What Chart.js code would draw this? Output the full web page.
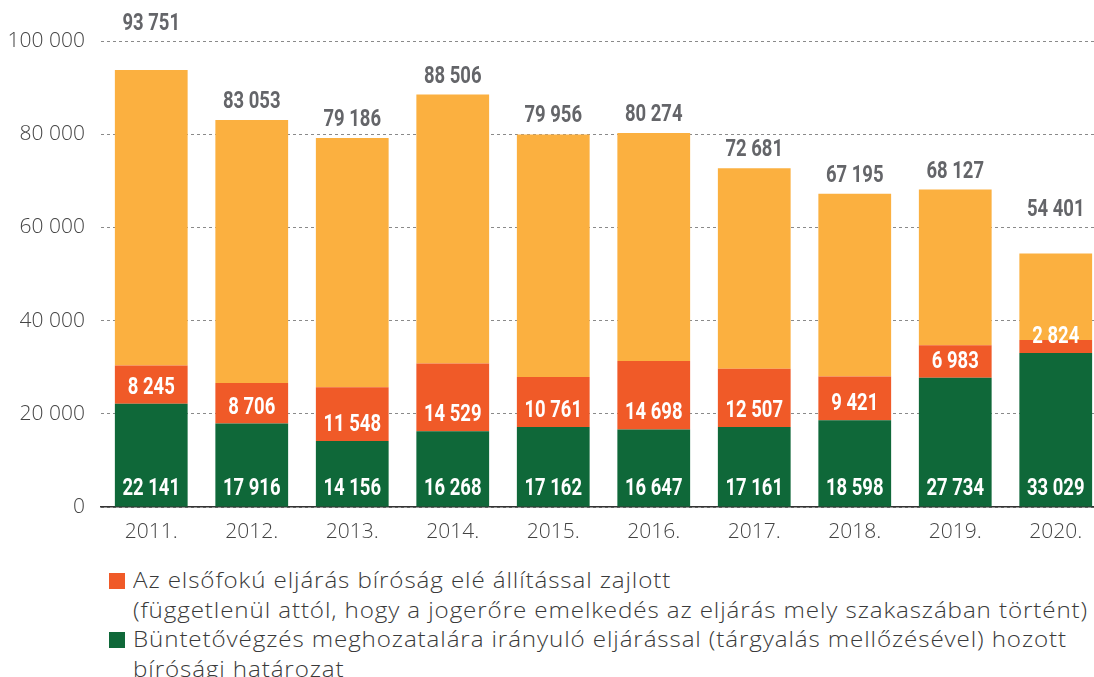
<!DOCTYPE html>
<html>
<head>
<meta charset="utf-8">
<script src="https://cdn.jsdelivr.net/npm/chart.js@4.4.1/dist/chart.umd.min.js"></script>
<style>
  html, body { margin:0; padding:0; background:#fff; width:1094px; height:677px; overflow:hidden; }
  #wrap { position:relative; width:1106px; height:677px; }
  #chartBox { position:absolute; left:0; top:0; width:1106px; height:550px; }
  #legend { position:absolute; left:109px; top:565px; font-family:"Open Sans", sans-serif; font-weight:300;
            font-size:22px; color:#3a3a3a; line-height:29.5px; white-space:nowrap; letter-spacing:0.8px; }
  .item { display:flex; align-items:flex-start; }
  .sw { width:16px; height:16px; flex:none; margin-top:8px; margin-right:8px; }
  .tx { transform:scaleX(1.1); transform-origin:0 0; }
</style>
</head>
<body>
<div id="wrap">
  <div id="chartBox"><canvas id="c"></canvas></div>
  <div id="legend"></div>
</div>
<script>
const years = ['2011.','2012.','2013.','2014.','2015.','2016.','2017.','2018.','2019.','2020.'];
const greenValues  = [22141,17916,14156,16268,17162,16647,17161,18598,27734,33029];
const orangeValues = [8245,8706,11548,14529,10761,14698,12507,9421,6983,2824];
const yellowValues = [63365,56431,53482,57709,52033,48929,43013,39176,33410,18548];
const totalValues  = [93751,83053,79186,88506,79956,80274,72681,67195,68127,54401];
const yTicks = [0,20000,40000,60000,80000,100000];
const orangeLegend = ['Az elsőfokú eljárás bíróság elé állítással zajlott',
  '(függetlenül attól, hogy a jogerőre emelkedés az eljárás mely szakaszában történt)'];
const greenLegend = ['Büntetővégzés meghozatalára irányuló eljárással (tárgyalás mellőzésével) hozott',
  'bírósági határozat'];

const GREEN = '#0f6839', ORANGE = '#f05a28', YELLOW = '#fbb040';
const fmt = n => String(n).replace(/\B(?=(\d{3})+(?!\d))/g, ' ');

const labelPlugin = {
  id: 'labels',
  afterDatasetsDraw(chart) {
    const ctx = chart.ctx;
    const ys = chart.scales.y;
    const g = chart.getDatasetMeta(0).data;
    const o = chart.getDatasetMeta(1).data;
    const t = chart.getDatasetMeta(2).data;
    const draw = (txt, x, y, color) => {
      ctx.save();
      ctx.font = 'bold 24px Roboto';
      ctx.fillStyle = color;
      ctx.textAlign = 'center';
      ctx.textBaseline = 'middle';
      ctx.translate(x, y);
      ctx.scale(0.77, 1);
      ctx.fillText(txt, 0, 0);
      ctx.restore();
    };
    for (let i = 0; i < years.length; i++) {
      draw(fmt(greenValues[i]), g[i].x, g[i].base - 18, '#fff');
      draw(fmt(orangeValues[i]), o[i].x, o[i].base - 16, '#fff');
      let cy = t[i].y - 18;
      for (const v of yTicks) {
        const gy = ys.getPixelForValue(v);
        if (gy > cy - 12 && gy < cy + 12) { cy = gy - 17; }
      }
      draw(fmt(totalValues[i]), t[i].x, cy, '#646569');
    }
  }
};

const tickFont = { family: '"Open Sans", sans-serif', size: 21, weight: 300 };

const chart = new Chart(document.getElementById('c'), {
  type: 'bar',
  data: {
    labels: years,
    datasets: [
      { label: 'green', data: greenValues, backgroundColor: GREEN, legendLines: greenLegend },
      { label: 'orange', data: orangeValues, backgroundColor: ORANGE, legendLines: orangeLegend },
      { label: 'yellow', data: yellowValues, backgroundColor: YELLOW }
    ]
  },
  options: {
    responsive: true,
    maintainAspectRatio: false,
    animation: false,
    layout: { padding: { top: 41, right: 0, left: 0, bottom: 0 } },
    datasets: { bar: { categoryPercentage: 1, barPercentage: 0.724, borderWidth: 0 } },
    plugins: { legend: { display: false }, tooltip: { enabled: false } },
    scales: {
      x: {
        stacked: true,
        grid: { display: false, drawTicks: false },
        border: { display: true, color: '#333', width: 1.5 },
        ticks: { color: '#444', font: tickFont, padding: 12 },
        afterFit: s => { s.height = 43; }
      },
      y: {
        stacked: true,
        min: 0, max: 100000,
        afterBuildTicks: s => { s.ticks = yTicks.map(v => ({ value: v })); },
        grid: { color: '#8a8a8a', lineWidth: 1, drawTicks: false },
        border: { display: false, dash: [3, 3] },
        ticks: { color: '#444', font: tickFont, padding: 16, callback: v => fmt(v) },
        afterFit: s => { s.width = 101; }
      }
    }
  },
  plugins: [labelPlugin]
});

const legendEl = document.getElementById('legend');
[1, 0].forEach(idx => {
  const ds = chart.data.datasets[idx];
  const item = document.createElement('div');
  item.className = 'item';
  const sw = document.createElement('div');
  sw.className = 'sw';
  sw.style.background = ds.backgroundColor;
  const tx = document.createElement('div');
  tx.className = 'tx';
  ds.legendLines.forEach((line, k) => {
    if (k) tx.appendChild(document.createElement('br'));
    tx.appendChild(document.createTextNode(line));
  });
  item.appendChild(sw);
  item.appendChild(tx);
  legendEl.appendChild(item);
});
</script>
</body>
</html>
